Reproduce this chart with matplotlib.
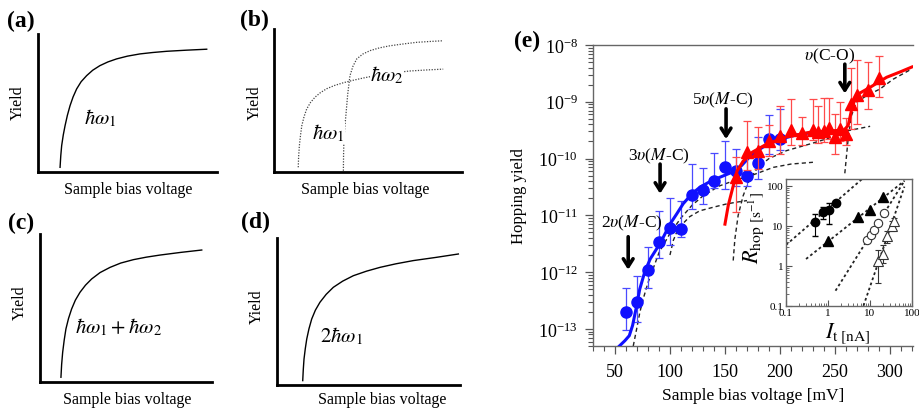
import numpy as np
import matplotlib.pyplot as plt
from matplotlib.ticker import LogLocator, NullFormatter, MultipleLocator, FixedLocator, FixedFormatter

plt.rcParams['font.family'] = ['Liberation Serif', 'DejaVu Serif']
plt.rcParams['mathtext.fontset'] = 'stix'

W, H = 919, 414

# ---- schematic curves (a)-(d), normalised axes units ----
a_x = [0.122, 0.126, 0.131, 0.140, 0.150, 0.163, 0.178, 0.195, 0.215, 0.240, 0.271, 0.305, 0.345, 0.390, 0.439, 0.500, 0.570, 0.640, 0.720, 0.830, 0.944]
a_y = [0.036, 0.120, 0.193, 0.270, 0.337, 0.412, 0.482, 0.545, 0.603, 0.655, 0.699, 0.738, 0.771, 0.798, 0.820, 0.840, 0.856, 0.866, 0.875, 0.883, 0.890]

b1_x = [0.129, 0.131, 0.135, 0.141, 0.148, 0.160, 0.174, 0.194, 0.218, 0.247, 0.280, 0.322, 0.369, 0.420, 0.475, 0.564, 0.640, 0.723, 0.810, 0.900]
b1_y = [0.035, 0.110, 0.186, 0.258, 0.326, 0.389, 0.442, 0.487, 0.524, 0.556, 0.583, 0.606, 0.625, 0.642, 0.658, 0.681, 0.695, 0.707, 0.714, 0.720]
b2_x = [0.369, 0.370, 0.372, 0.377, 0.383, 0.392, 0.404, 0.420, 0.440, 0.472, 0.511, 0.560, 0.617, 0.690, 0.759, 0.830, 0.900]
b2_y = [0.011, 0.120, 0.232, 0.320, 0.407, 0.545, 0.674, 0.740, 0.791, 0.825, 0.849, 0.868, 0.883, 0.896, 0.907, 0.913, 0.918]

c_x = [0.122, 0.126, 0.132, 0.141, 0.151, 0.166, 0.184, 0.206, 0.233, 0.265, 0.301, 0.350, 0.408, 0.470, 0.544, 0.620, 0.699, 0.820, 0.942]
c_y = [0.034, 0.120, 0.202, 0.285, 0.360, 0.430, 0.494, 0.554, 0.607, 0.655, 0.697, 0.740, 0.775, 0.804, 0.827, 0.844, 0.858, 0.876, 0.892]

d_x = [0.142, 0.145, 0.149, 0.156, 0.164, 0.176, 0.191, 0.211, 0.236, 0.270, 0.309, 0.360, 0.418, 0.490, 0.564, 0.650, 0.745, 0.870, 0.991]
d_y = [0.030, 0.105, 0.177, 0.248, 0.314, 0.383, 0.450, 0.510, 0.564, 0.618, 0.666, 0.708, 0.745, 0.776, 0.802, 0.826, 0.848, 0.870, 0.893]

# ---- panel (e): hopping yield data ----
blue_v = [60, 70, 80, 90, 100, 110, 120, 130, 140, 150, 160, 170, 180, 190, 200]
blue_y = [1.95e-13, 2.95e-13, 1.07e-12, 3.45e-12, 5.9e-12, 5.8e-12, 2.25e-11, 2.8e-11, 4.1e-11, 7.1e-11, 6.0e-11, 4.9e-11, 8.5e-11, 2.2e-10, 2.2e-10]
blue_lo = [9.6e-14, 1.35e-13, 5.2e-13, 1.8e-12, 3.0e-12, 4.1e-12, 1.3e-11, 1.6e-11, 3.0e-11, 2.9e-11, 3.3e-11, 3.3e-11, 4.4e-11, 1.2e-10, 1.4e-10]
blue_hi = [5.2e-13, 8.5e-13, 2.8e-12, 1.17e-11, 2.0e-11, 1.8e-11, 7.9e-11, 6.9e-11, 1.27e-10, 2.0e-10, 1.48e-10, 1.07e-10, 2.4e-10, 5.8e-10, 7.5e-10]

red_v = [160, 170, 180, 190, 200, 210, 220, 230, 235, 240, 245, 250, 255, 260, 265, 270, 280, 290]
red_y = [4.7e-11, 1.3e-10, 1.35e-10, 2.05e-10, 2.5e-10, 3.2e-10, 2.8e-10, 3.2e-10, 2.9e-10, 3.1e-10, 3.5e-10, 2.4e-10, 3.3e-10, 2.7e-10, 9.0e-10, 1.32e-9, 1.6e-9, 2.6e-9]
red_lo = [1.13e-11, 6.2e-11, 6.6e-11, 1.1e-10, 1.2e-10, 1.7e-10, 1.74e-10, 2.1e-10, 1.9e-10, 1.95e-10, 2.2e-10, 1.19e-10, 2.0e-10, 1.7e-10, 3.3e-10, 4.0e-10, 7.5e-10, 1.23e-9]
red_hi = [1.05e-10, 4.5e-10, 3.6e-10, 3.9e-10, 8.5e-10, 1.12e-9, 5.3e-10, 1.1e-9, 8.5e-10, 1.15e-9, 1.15e-9, 6.1e-10, 1.0e-9, 5.1e-10, 3.9e-9, 5.5e-9, 5.1e-9, 6.5e-9]

blue_fit_v = [54, 59, 63, 66, 69, 72.5, 77, 82, 88, 93, 100, 106, 112, 120, 127, 135, 142, 150, 158, 165, 172, 180, 190, 200, 215, 230]
blue_fit_y = [5e-14, 6.2e-14, 7.6e-14, 1.15e-13, 2.2e-13, 5e-13, 1e-12, 1.7e-12, 2.6e-12, 3.8e-12, 7e-12, 1.05e-11, 1.6e-11, 2.4e-11, 3.1e-11, 3.8e-11, 4.4e-11, 5.1e-11, 5.9e-11, 7.5e-11, 1.05e-10, 1.4e-10, 1.85e-10, 2.2e-10, 2.6e-10, 2.9e-10]

red_fit_v = [150, 153, 157.5, 161, 166.5, 175, 188, 206, 227, 248, 258, 262, 265, 268, 272, 282, 297, 310, 320]
red_fit_y = [7e-12, 1.5e-11, 3.3e-11, 6e-11, 9e-11, 1.3e-10, 1.8e-10, 2.4e-10, 2.9e-10, 3.1e-10, 3.15e-10, 3.8e-10, 7e-10, 1.1e-9, 1.4e-9, 1.8e-9, 2.7e-9, 3.4e-9, 4.1e-9]

# dashed fit components
c2_v = [66.6, 69.7, 72.7, 75.7, 80, 90, 100, 110, 120, 130, 145, 160, 176, 194, 210, 230]
c2_y = [5e-14, 1e-13, 2e-13, 3.4e-13, 6.5e-13, 2.2e-12, 4.8e-12, 9e-12, 1.5e-11, 2.2e-11, 3.3e-11, 4.2e-11, 5.2e-11, 7e-11, 8e-11, 8.6e-11]
c3_v = [100, 103, 106, 110, 118, 127, 140, 151, 160, 170]
c3_y = [2e-12, 3.6e-12, 5e-12, 6.6e-12, 9.5e-12, 1.2e-11, 1.4e-11, 1.58e-11, 1.7e-11, 1.82e-11]
c5_v = [157.5, 159, 162, 166.5, 172, 180, 190, 206, 227, 248, 262, 282]
c5_y = [1.6e-12, 3.8e-12, 1e-11, 2.2e-11, 4.2e-11, 7e-11, 1e-10, 1.38e-10, 1.8e-10, 2.4e-10, 3.1e-10, 3.7e-10]
cco_v = [259, 262, 265, 269.7, 279, 291, 303, 320]
cco_y = [5.5e-11, 2.2e-10, 5.7e-10, 9.8e-10, 1.29e-9, 1.68e-9, 2.5e-9, 3.8e-9]

arrow_v = [62, 91, 151, 259]
arrow_top = [4.2e-12, 8e-11, 7.5e-10, 4.6e-9]
arrow_tip = [1.1e-12, 2.4e-11, 2.2e-10, 1.4e-9]
arrow_labels = [r'2$\upsilon$($M$-C)', r'3$\upsilon$($M$-C)', r'5$\upsilon$($M$-C)', r'$\upsilon$(C-O)']
label_v = [65, 90, 148.5, 245.5]
label_y = [7.4e-12, 1.16e-10, 1.1e-9, 6.5e-9]
yield_ticks = [1e-13, 1e-12, 1e-11, 1e-10, 1e-9, 1e-8]

# ---- inset: hopping rate vs tunnelling current ----
fc_i = [0.50, 0.75, 1.04, 1.57]
fc_r = [12.6, 21.5, 24.6, 36.9]
fc_lo = [5.4, 14.7, 11.0, 33.0]
fc_hi = [19.5, 28.7, 38.0, 41.0]
ft_i = [1.0, 5.2, 10.1, 20.8]
ft_r = [4.2, 16.8, 24.6, 51.0]
oc_i = [8.7, 10.5, 12.6, 15.2, 21.2]
oc_r = [4.5, 6.0, 7.8, 11.7, 20.3]
ot_i = [15.7, 20.0, 26.0, 33.0, 38.0]
ot_r = [1.3, 2.0, 5.6, 10.0, 13.0]
ot_lo = [0.38, 1.2, 3.8, 7.5, 10.0]
ot_hi = [2.4, 3.2, 7.5, 13.0, 16.0]
fit_fc_i, fit_fc_r = [0.1, 6.5], [3.3, 147]
fit_ft_i, fit_ft_r = [0.30, 66.5], [1.47, 133]
fit_oc_i, fit_oc_r = [1.51, 66.5], [0.237, 133]
fit_ot_i, fit_ot_r = [7.0, 66.0], [0.1, 95]


def rect(l, t, r, b):
    return [l / W, 1 - b / H, (r - l) / W, (b - t) / H]


def ftext(x, y, s, **kw):
    fig.text(x / W, 1 - y / H, s, ha='center', va='center', **kw)


fig = plt.figure(figsize=(W / 100, H / 100), dpi=100)


def schematic(box, curves, style):
    ax = fig.add_axes(rect(*box))
    ax.set_xlim(0, 1)
    ax.set_ylim(0, 1)
    for cx, cy in curves:
        if style == 'dot':
            ax.plot(cx, cy, color='#444444', lw=0.9, ls=(0, (1, 1.2)))
        else:
            ax.plot(cx, cy, color='black', lw=1.0)
    for s in ['top', 'right']:
        ax.spines[s].set_visible(False)
    for s in ['left', 'bottom']:
        ax.spines[s].set_linewidth(2.0)
    ax.set_xticks([])
    ax.set_yticks([])
    ax.patch.set_alpha(0)
    return ax


schematic((38.3, 35, 216.7, 173.3), [(a_x, a_y)], 'solid')
schematic((274, 30, 462, 173.3), [(b1_x, b1_y), (b2_x, b2_y)], 'dot')
schematic((40, 235, 211.7, 383.3), [(c_x, c_y)], 'solid')
schematic((276.7, 239.3, 460, 386), [(d_x, d_y)], 'solid')

for lbl, x, y in [('(a)', 21, 21.7), ('(b)', 254, 20), ('(c)', 21, 223), ('(d)', 256, 222), ('(e)', 526.7, 41)]:
    ftext(x, y, lbl, fontsize=17, fontweight='bold')

for x, y in [(18, 103), (255, 103), (20, 303), (256.7, 306.7)]:
    ftext(x, y, 'Yield', fontsize=11.5, rotation=90)
for x, y in [(128, 190), (365, 190), (127, 400), (381.7, 400)]:
    ftext(x, y, 'Sample bias voltage', fontsize=11.5)

ftext(100, 118, r'$\hbar\omega_1$', fontsize=15)
ftext(387, 75, r'$\hbar\omega_2$', fontsize=15,
      bbox=dict(facecolor='white', edgecolor='none', pad=0.5), zorder=5)
ftext(328.3, 133.3, r'$\hbar\omega_1$', fontsize=15,
      bbox=dict(facecolor='white', edgecolor='none', pad=0.5), zorder=5)
ftext(118, 327, r'$\hbar\omega_1 + \hbar\omega_2$', fontsize=15)
ftext(341.7, 336.7, r'$2\hbar\omega_1$', fontsize=15)

# ---- panel (e) ----
ax = fig.add_axes(rect(593, 46, 913, 347))
ax.set_yscale('log')
ax.set_xlim(30, 321)
ax.set_ylim(5e-14, 1e-8)

b_err = [np.array(blue_y) - np.array(blue_lo), np.array(blue_hi) - np.array(blue_y)]
r_err = [np.array(red_y) - np.array(red_lo), np.array(red_hi) - np.array(red_y)]

for cv, cy in [(c2_v, c2_y), (c3_v, c3_y), (c5_v, c5_y), (cco_v, cco_y)]:
    ax.plot(cv, cy, color='#222222', lw=1.0, ls=(0, (3, 2.2)), zorder=2)

ax.errorbar(blue_v, blue_y, yerr=b_err, fmt='none', ecolor='#4a4aff', elinewidth=0.9,
            capsize=3, capthick=0.9, zorder=3)
ax.plot(blue_v, blue_y, 'o', color='#1010ff', ms=8, zorder=4)
ax.plot(blue_fit_v, blue_fit_y, color='#1010ff', lw=2.2, zorder=5)

ax.errorbar(red_v, red_y, yerr=r_err, fmt='none', ecolor='#ff4a4a', elinewidth=0.9,
            capsize=3, capthick=0.9, zorder=6)
ax.plot(red_v, red_y, '^', color='#ff0000', ms=8.5, zorder=7)
ax.plot(red_fit_v, red_fit_y, color='#ff0000', lw=2.2, zorder=8)

for v, t0, t1 in zip(arrow_v, arrow_top, arrow_tip):
    ax.annotate('', xy=(v, t1), xytext=(v, t0),
                arrowprops=dict(arrowstyle='->,head_length=0.55,head_width=0.35',
                                lw=2.6, color='black', shrinkA=0, shrinkB=0), zorder=9)
for s, v, y in zip(arrow_labels, label_v, label_y):
    ax.text(v, y, s, fontsize=12.5, ha='center', va='center', zorder=9)

ax.set_xticks(range(50, 301, 50))
ax.xaxis.set_minor_locator(FixedLocator(range(30, 321, 10)))
ax.yaxis.set_major_locator(FixedLocator(yield_ticks))
ax.yaxis.set_minor_locator(LogLocator(base=10, subs=np.arange(2, 10), numticks=20))
ax.yaxis.set_minor_formatter(NullFormatter())
ax.tick_params(axis='both', which='major', direction='out', length=6, width=0.9,
               color='#555555', labelsize=13)
ax.tick_params(axis='x', which='major', pad=6)
ax.tick_params(axis='y', which='major', pad=5)
ax.tick_params(axis='both', which='minor', direction='out', length=3.5, width=0.8, color='#555555')
ax.tick_params(axis='x', which='both', top=False)
ax.spines['right'].set_visible(False)
for s in ['left', 'bottom', 'top']:
    ax.spines[s].set_color('#666666')
    ax.spines[s].set_linewidth(1.0)
ax.set_xlabel('Sample bias voltage [mV]', fontsize=12.5, labelpad=5)
ax.set_ylabel('Hopping yield', fontsize=12, labelpad=8)

# ---- inset ----
ins = fig.add_axes(rect(786, 180, 912, 306.7), zorder=10)
ins.set_xscale('log')
ins.set_yscale('log')
ins.set_xlim(0.1, 100)
ins.set_ylim(0.1, 147)
for fx_, fy_ in [(fit_fc_i, fit_fc_r), (fit_ft_i, fit_ft_r), (fit_oc_i, fit_oc_r), (fit_ot_i, fit_ot_r)]:
    ins.plot(fx_, fy_, color='#222222', lw=1.3, ls=(0, (1.5, 1.5)))
ins.errorbar(fc_i, fc_r, yerr=[np.array(fc_r) - np.array(fc_lo), np.array(fc_hi) - np.array(fc_r)],
             fmt='o', color='black', ms=6, elinewidth=0.8, capsize=2)
ins.plot(ft_i, ft_r, '^', color='black', ms=6.5)
ins.plot(oc_i, oc_r, 'o', mfc='white', mec='#333333', mew=0.8, ms=6)
ins.errorbar(ot_i, ot_r, yerr=[np.array(ot_r) - np.array(ot_lo), np.array(ot_hi) - np.array(ot_r)],
             fmt='^', mfc='white', mec='#333333', ecolor='#333333', mew=0.8, ms=6.5,
             elinewidth=0.8, capsize=2)
ins.xaxis.set_major_locator(FixedLocator([0.1, 1, 10, 100]))
ins.xaxis.set_major_formatter(FixedFormatter(['0.1', '1', '10', '100']))
ins.yaxis.set_major_locator(FixedLocator([0.1, 1, 10, 100]))
ins.yaxis.set_major_formatter(FixedFormatter(['0.1', '1', '10', '100']))
ins.xaxis.set_minor_locator(LogLocator(base=10, subs=np.arange(2, 10), numticks=20))
ins.yaxis.set_minor_locator(LogLocator(base=10, subs=np.arange(2, 10), numticks=20))
ins.xaxis.set_minor_formatter(NullFormatter())
ins.yaxis.set_minor_formatter(NullFormatter())
ins.tick_params(which='major', direction='in', length=4, width=0.8, color='#555555', labelsize=8, pad=2)
ins.tick_params(which='minor', direction='in', length=2, width=0.6, color='#555555')
for s in ins.spines.values():
    s.set_color('#666666')
    s.set_linewidth(1.0)
ftext(848, 334, r'$I_{\mathrm{t}\ [\mathrm{nA}]}$', fontsize=16, zorder=11)
ftext(754, 228, r'$R_{\mathrm{hop}\ [\mathrm{s}^{-1}]}$', fontsize=16, rotation=90, zorder=11)

fig.savefig('out.png', dpi=100)
